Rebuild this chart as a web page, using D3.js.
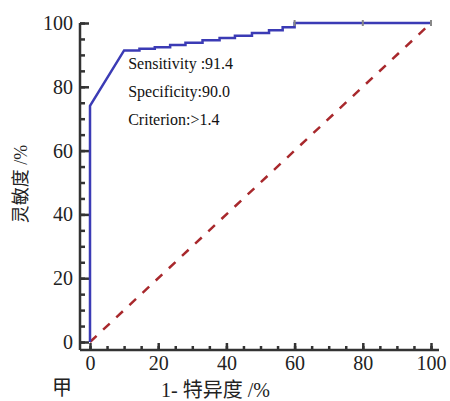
<!DOCTYPE html>
<html>
<head>
<meta charset="utf-8">
<script src="https://cdn.jsdelivr.net/npm/d3@7"></script>
<style>
  body { margin: 0; background: #fff; }
  svg { display: block; }
</style>
</head>
<body>
<svg width="450" height="401"></svg>
<script>
// ROC curve vertices (1-specificity %, sensitivity %)
var rocFpr  = [0, 0, 10, 14.5, 14.5, 19, 19, 23.5, 23.5, 28, 28, 33, 33, 38, 38, 42.5, 42.5, 47.5, 47.5, 52.5, 52.5, 56.5, 56.5, 60, 60, 100];
var rocSens = [0, 74, 91.4, 91.4, 91.9, 91.9, 92.4, 92.4, 93.1, 93.1, 93.8, 93.8, 94.6, 94.6, 95.3, 95.3, 96.0, 96.0, 96.9, 96.9, 97.7, 97.7, 98.7, 98.7, 100, 100];
// gray point markers on the curve
var markFpr  = [60, 80, 100];
var markSens = [100, 100, 100];
// reference diagonal
var diagFpr  = [0, 100];
var diagSens = [0, 100];

var tickValues = [0, 20, 40, 60, 80, 100];
var minorTicks = d3.range(0, 101, 5);

var notes = ["Sensitivity :91.4", "Specificity:90.0", "Criterion:>1.4"];

var svg = d3.select("svg");

var x = d3.scaleLinear().domain([0, 100]).range([90, 431]);
var y = d3.scaleLinear().domain([0, 100]).range([342, 23]);

var axisColor = "#333";
var yAxisX = x(0) - 10,
    xAxisY = y(0) + 8;

// ### Axes
var gy = svg.append("g").attr("transform", "translate(" + yAxisX + ",0)");
gy.append("g")
    .call(d3.axisLeft(y).tickValues(minorTicks).tickSizeInner(-5).tickSizeOuter(0).tickFormat(""))
    .call(g => g.select(".domain").remove());
gy.append("g")
    .call(d3.axisLeft(y).tickValues(tickValues).tickSizeInner(-9).tickSizeOuter(0).tickPadding(7))
    .call(g => g.select(".domain").remove());
gy.append("line")
    .attr("x1", 0).attr("x2", 0)
    .attr("y1", xAxisY).attr("y2", y(100));

var gx = svg.append("g").attr("transform", "translate(0," + xAxisY + ")");
gx.append("g")
    .call(d3.axisBottom(x).tickValues(minorTicks).tickSizeInner(-4).tickSizeOuter(0).tickFormat(""))
    .call(g => g.select(".domain").remove());
gx.append("g")
    .call(d3.axisBottom(x).tickValues(tickValues).tickSizeInner(-7).tickSizeOuter(0).tickPadding(6))
    .call(g => g.select(".domain").remove());
gx.append("line")
    .attr("x1", yAxisX).attr("x2", x(100) + 8)
    .attr("y1", 0).attr("y2", 0);

svg.selectAll(".tick line, g > line")
    .attr("stroke", axisColor)
    .attr("stroke-width", 2.5);
svg.selectAll(".tick text")
    .attr("fill", "#222")
    .style("font-family", "'Liberation Serif', 'DejaVu Serif', serif")
    .style("font-size", "20px");

// ### Diagonal
var line = d3.line().x(d => x(d[0])).y(d => y(d[1]));

svg.append("path")
    .datum(d3.zip(diagFpr, diagSens))
    .attr("d", line)
    .attr("fill", "none")
    .attr("stroke", "#a8282c")
    .attr("stroke-width", 2.5)
    .attr("stroke-dasharray", "9,9");

// ### ROC curve
svg.append("path")
    .datum(d3.zip(rocFpr, rocSens))
    .attr("d", line)
    .attr("fill", "none")
    .attr("stroke", "#3b3bb5")
    .attr("stroke-width", 2.5);

svg.selectAll(".mark")
    .data(d3.zip(markFpr, markSens))
    .enter().append("line")
      .attr("class", "mark")
      .attr("x1", d => x(d[0])).attr("x2", d => x(d[0]))
      .attr("y1", d => y(d[1]) - 3).attr("y2", d => y(d[1]) + 3)
      .attr("stroke", "#888")
      .attr("stroke-width", 2);

// ### Annotation
svg.selectAll(".note")
    .data(notes)
    .enter().append("text")
      .attr("class", "note")
      .attr("x", x(11.2))
      .attr("y", (d, i) => 69 + i * 28)
      .attr("fill", "#111")
      .style("font-family", "'Liberation Serif', serif")
      .style("font-size", "16px")
      .text(d => d);

// ### Titles
var titleFont = "'Liberation Serif', 'Noto Sans CJK SC', serif";

svg.append("text")
    .attr("x", (x(0) + x(100)) / 2 - 45)
    .attr("y", 397)
    .attr("text-anchor", "middle")
    .attr("fill", "#222")
    .style("font-family", titleFont)
    .style("font-size", "20px")
    .text("1- 特异度 /%");

svg.append("text")
    .attr("transform", "translate(27,184) rotate(-90)")
    .attr("text-anchor", "middle")
    .attr("fill", "#222")
    .style("font-family", titleFont)
    .style("font-size", "18px")
    .text("灵敏度 /%");

svg.append("text")
    .attr("x", 62)
    .attr("y", 395)
    .attr("text-anchor", "middle")
    .attr("fill", "#222")
    .style("font-family", titleFont)
    .style("font-size", "20px")
    .text("甲");
</script>
</body>
</html>
